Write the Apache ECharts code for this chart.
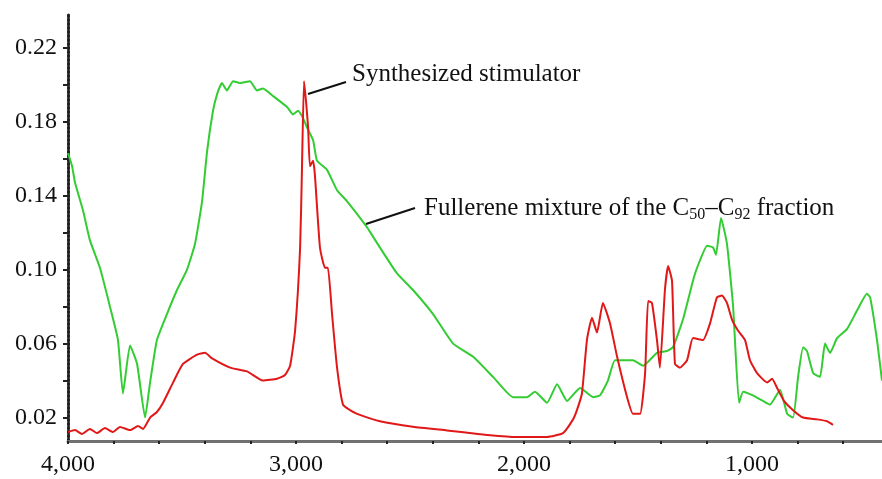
<!DOCTYPE html>
<html>
<head>
<meta charset="utf-8">
<script src="https://cdn.jsdelivr.net/npm/echarts@6/dist/echarts.min.js"></script>
<style>html,body{margin:0;padding:0;background:#fff}#c{width:882px;height:479px}</style>
</head>
<body>
<div id="c"></div>
<script>
// Fullerene mixture of the C50–C92 fraction (green)
const fullereneWn = [4000,3982,3969,3934,3904,3860,3816,3781,3759,3728,3697,3662,3640,3610,3566,3522,3478,3443,3412,3390,3364,3346,3325,3303,3276,3246,3202,3171,3145,3101,3039,3013,2991,2969,2952,2925,2908,2864,2820,2776,2689,2632,2557,2487,2399,2311,2224,2136,2048,1987,1952,1899,1855,1811,1754,1697,1667,1632,1601,1548,1522,1478,1417,1373,1347,1303,1259,1241,1197,1171,1158,1136,1110,1083,1057,1039,996,952,921,877,846,820,798,776,759,732,702,680,658,627,583,539,496,482,452,430];
const fullereneAbs = [0.163,0.156,0.147,0.132,0.116,0.101,0.080,0.062,0.033,0.059,0.049,0.020,0.039,0.062,0.076,0.089,0.100,0.114,0.137,0.164,0.186,0.195,0.201,0.197,0.202,0.201,0.202,0.197,0.198,0.194,0.188,0.184,0.186,0.182,0.177,0.170,0.159,0.154,0.143,0.137,0.123,0.112,0.098,0.089,0.076,0.060,0.053,0.042,0.031,0.031,0.034,0.028,0.038,0.029,0.036,0.031,0.032,0.040,0.051,0.051,0.051,0.048,0.055,0.056,0.058,0.073,0.094,0.101,0.113,0.112,0.108,0.128,0.114,0.080,0.028,0.034,0.032,0.029,0.027,0.035,0.022,0.020,0.042,0.058,0.056,0.044,0.042,0.060,0.055,0.063,0.068,0.078,0.087,0.085,0.062,0.040];

// Synthesized stimulator (red)
const stimulatorWn = [4000,3969,3939,3904,3873,3838,3803,3772,3728,3693,3671,3640,3610,3583,3539,3496,3434,3399,3368,3289,3215,3145,3083,3048,3026,3004,2982,2974,2965,2956,2947,2939,2925,2917,2895,2873,2860,2842,2820,2794,2763,2732,2632,2487,2338,2193,2048,1899,1829,1785,1768,1746,1724,1702,1680,1654,1623,1592,1548,1522,1491,1469,1456,1439,1417,1404,1382,1368,1351,1338,1316,1285,1259,1215,1184,1154,1132,1110,1088,1061,1031,1009,978,934,912,890,860,820,776,715,671,645];
const stimulatorAbs = [0.0121,0.0132,0.0111,0.0138,0.0116,0.0143,0.0122,0.0149,0.0132,0.0154,0.0138,0.020,0.023,0.028,0.039,0.049,0.054,0.055,0.052,0.047,0.045,0.040,0.041,0.043,0.048,0.067,0.112,0.154,0.202,0.191,0.177,0.156,0.159,0.151,0.112,0.101,0.101,0.076,0.047,0.027,0.024,0.022,0.018,0.015,0.013,0.011,0.0095,0.0095,0.0116,0.019,0.024,0.033,0.062,0.074,0.066,0.082,0.071,0.053,0.031,0.022,0.022,0.044,0.083,0.082,0.062,0.047,0.089,0.102,0.094,0.049,0.047,0.051,0.063,0.062,0.071,0.085,0.086,0.082,0.073,0.067,0.062,0.051,0.044,0.039,0.041,0.036,0.029,0.024,0.020,0.019,0.018,0.016];

const xTickValues = [4000,3800,3600,3400,3200,3000,2800,2600,2400,2200,2000,1800,1600,1400,1200,1000,800,600];
const xLabelValues = [4000,3000,2000,1000];
const yTickValues = [0.02,0.04,0.06,0.08,0.10,0.12,0.14,0.16,0.18,0.20,0.22];
const yLabelValues = [0.02,0.06,0.10,0.14,0.18,0.22];

const zip = (a, b) => a.map((v, i) => [v, b[i]]);
const FONT = '"Liberation Serif","Times New Roman",serif';

const chart = echarts.init(document.getElementById('c'));
chart.setOption({
  backgroundColor: '#fff',
  animation: false,
  grid: {left: 68, right: 0, top: 15, bottom: 38, containLabel: false},
  xAxis: {
    type: 'value', min: 430, max: 4000, inverse: true,
    axisLine: {show: true, onZero: false, lineStyle: {color: '#707070', width: 3}},
    axisTick: {show: true, customValues: xTickValues, length: 3, inside: false, lineStyle: {color: '#222', width: 2}},
    axisLabel: {customValues: xLabelValues, margin: 12, fontFamily: FONT, fontSize: 24, color: '#111',
      formatter: v => v.toLocaleString('en-US')},
    splitLine: {show: false}
  },
  yAxis: {
    type: 'value', min: 0.0073, max: 0.2378,
    axisLine: {show: true, onZero: false, lineStyle: {color: '#222', width: 3, type: [2, 2]}},
    axisTick: {show: true, customValues: yTickValues, length: 5, lineStyle: {color: '#222', width: 2}},
    axisLabel: {customValues: yLabelValues, margin: 11, fontFamily: FONT, fontSize: 24, color: '#111',
      formatter: v => v.toFixed(2)},
    splitLine: {show: false}
  },
  series: [
    {name: 'Fullerene mixture of the C50–C92 fraction', type: 'line', data: zip(fullereneWn, fullereneAbs),
      showSymbol: false, smooth: 0.15, lineStyle: {color: '#33cc33', width: 2}, z: 2},
    {name: 'Synthesized stimulator', type: 'line', data: zip(stimulatorWn, stimulatorAbs),
      showSymbol: false, smooth: 0.15, lineStyle: {color: '#e01818', width: 2}, z: 3}
  ],
  graphic: [
    {type: 'line', shape: {x1: 308, y1: 94, x2: 346, y2: 82}, style: {stroke: '#111', lineWidth: 2}, z: 10},
    {type: 'text', left: 352, top: 62, style: {text: 'Synthesized stimulator', font: '25px ' + FONT, fill: '#111'}, z: 10},
    {type: 'line', shape: {x1: 366, y1: 224, x2: 415, y2: 208}, style: {stroke: '#111', lineWidth: 2}, z: 10},
    {type: 'text', left: 424, top: 193, z: 10, style: {
      text: 'Fullerene mixture of the C{s|50}–C{s|92} fraction',
      font: '25px ' + FONT, fill: '#111', lineHeight: 30,
      rich: {s: {fontSize: 16, fontFamily: FONT, fill: '#111', lineHeight: 30, verticalAlign: 'bottom'}}
    }}
  ]
});
</script>
</body>
</html>
